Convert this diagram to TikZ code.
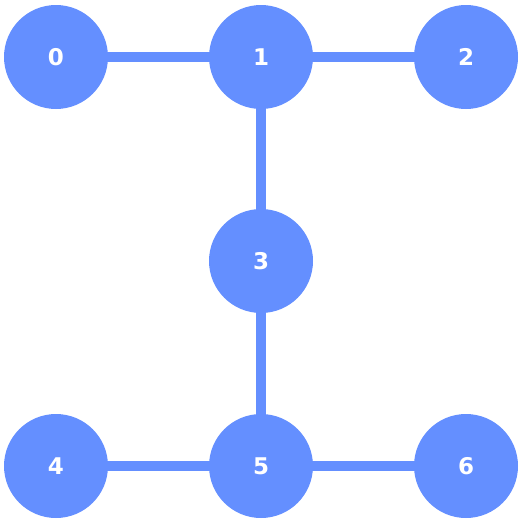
\documentclass[tikz,border=0pt]{standalone}
\usepackage{fontspec}
\setmainfont{DejaVu Sans}
\definecolor{nodeblue}{HTML}{648FFF}
\begin{document}
\begin{tikzpicture}[x=1pt,y=-1pt,
  vtx/.style={circle,fill=nodeblue,minimum size=104pt,inner sep=0pt,text=white,font=\fontsize{23}{23}\selectfont\bfseries},
  edge/.style={nodeblue,line width=10pt}]
\useasboundingbox (0,0) rectangle (523,525);
\node[vtx] (n0) at (56,57) {0};
\node[vtx] (n1) at (261,57) {1};
\node[vtx] (n2) at (466,57) {2};
\node[vtx] (n3) at (261,261) {3};
\node[vtx] (n4) at (56,466) {4};
\node[vtx] (n5) at (261,466) {5};
\node[vtx] (n6) at (466,466) {6};
\draw[edge] (n0) -- (n1);
\draw[edge] (n1) -- (n2);
\draw[edge] (n1) -- (n3);
\draw[edge] (n3) -- (n5);
\draw[edge] (n4) -- (n5);
\draw[edge] (n5) -- (n6);
\end{tikzpicture}
\end{document}
